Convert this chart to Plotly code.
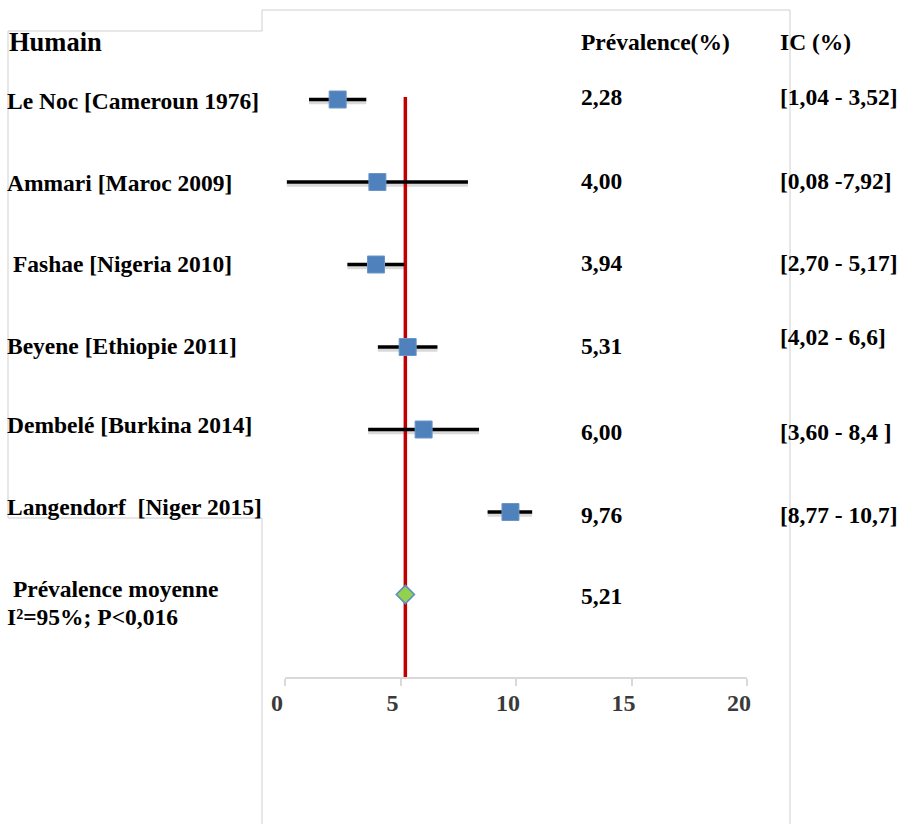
import plotly.graph_objects as go

W, H = 903, 824

# Studies (top to bottom) and pooled estimate
studies = ["Le Noc [Cameroun 1976]", "Ammari [Maroc 2009]", " Fashae [Nigeria 2010]",
           "Beyene [Ethiopie 2011]", "Dembelé [Burkina 2014]", "Langendorf  [Niger 2015]"]
prevalence = [2.28, 4.00, 3.94, 5.31, 6.00, 9.76]
ci_low = [1.04, 0.08, 2.70, 4.02, 3.60, 8.77]
ci_high = [3.52, 7.92, 5.17, 6.6, 8.4, 10.7]
prev_labels = ["2,28", "4,00", "3,94", "5,31", "6,00", "9,76"]
ci_labels = ["[1,04 - 3,52]", "[0,08 -7,92]", "[2,70 - 5,17]",
             "[4,02 - 6,6]", "[3,60 - 8,4 ]", "[8,77 - 10,7]"]
pooled = 5.21
pooled_label = "5,21"
x_ticks = [0, 5, 10, 15, 20]

rows = list(range(len(studies) + 1, 1, -1))  # 7..2, pooled row = 1
pooled_row = 1

FONT = "Times New Roman, Liberation Serif, serif"


def px(x):
    return x / W


def py(y):
    return 1 - y / H


err_plus = [h - p for h, p in zip(ci_high, prevalence)]
err_minus = [p - l for p, l in zip(prevalence, ci_low)]

fig = go.Figure()

# soft drop shadow under the confidence-interval bars
fig.add_trace(go.Scatter(
    x=prevalence, y=[r - 0.035 for r in rows], mode="markers",
    marker=dict(size=1, opacity=0), hoverinfo="skip",
    error_x=dict(type="data", symmetric=False, array=err_plus,
                 arrayminus=err_minus, color="rgba(0,0,0,0.15)",
                 thickness=3.5, width=0)))

# vertical reference line at the pooled prevalence
fig.add_trace(go.Scatter(
    x=[pooled, pooled], y=[0, 7.03], mode="lines",
    line=dict(color="#C00000", width=3.5), hoverinfo="skip"))

# study estimates with confidence intervals
fig.add_trace(go.Scatter(
    x=prevalence, y=rows, mode="markers",
    marker=dict(symbol="square", size=17, color="#4F81BD",
                line=dict(color="#6A96C8", width=1)),
    error_x=dict(type="data", symmetric=False, array=err_plus,
                 arrayminus=err_minus, color="black", thickness=3.5, width=0)))

# pooled estimate
fig.add_trace(go.Scatter(
    x=[pooled], y=[pooled_row], mode="markers",
    marker=dict(symbol="diamond", size=14, color="#92D050",
                line=dict(color="#5B8DBF", width=1.5))))

ann = []


def text(x, y, s, size=23.5, color="black"):
    ann.append(dict(x=px(x), y=py(y), xref="paper", yref="paper", text=s,
                    showarrow=False, xanchor="left", yanchor="middle",
                    borderpad=0,
                    font=dict(family=FONT, size=size, color=color)))


text(8, 42, "<b>Humain</b>", size=26.5)
text(580, 42, "<b>Prévalence(%)</b>")
text(779, 42, "<b>IC (%)</b>")

label_y = [101, 183, 264, 346, 425, 507]
value_y = [97, 181, 263, 346, 432, 515]
ic_y = [97, 181, 263, 337, 432, 515]
for i, name in enumerate(studies):
    text(6, label_y[i], "<b>%s</b>" % name)
    text(580, value_y[i], "<b>%s</b>" % prev_labels[i])
    text(779, ic_y[i], "<b>%s</b>" % ci_labels[i])

text(6, 589, "<b> Prévalence moyenne</b>")
text(6, 617, "<b>I²=95%; P&lt;0,016</b>")
text(580, 596, "<b>%s</b>" % pooled_label)

# frames of the figure panels
gray = "#CFCFCF"
segments = [
    (8, 31, 262, 31), (8, 31, 8, 518), (8, 518, 262, 518),
    (262, 518, 262, 824), (262, 31, 262, 10), (262, 10, 790, 10),
    (790, 10, 790, 824),
]
shapes = [dict(type="line", xref="paper", yref="paper",
               x0=px(a), y0=py(b), x1=px(c), y1=py(d),
               line=dict(color=gray, width=1)) for a, b, c, d in segments]

fig.update_layout(
    width=W, height=H,
    margin=dict(l=0, r=0, t=0, b=0, pad=0, autoexpand=False),
    paper_bgcolor="white", plot_bgcolor="rgba(0,0,0,0)",
    showlegend=False, annotations=ann, shapes=shapes,
    xaxis=dict(domain=[px(285), px(747)], range=[0, 20], tickvals=x_ticks,
               ticktext=["<b>%d</b>" % t for t in x_ticks],
               showgrid=False, zeroline=False, showline=True,
               linecolor="#D9D9D9", linewidth=1.5, ticks="outside",
               ticklen=7, tickcolor="#D9D9D9", tickwidth=1.5,
               ticklabelshift=-8, ticklabelstandoff=-4,
               tickfont=dict(family=FONT, size=24, color="#3A3A3A"),
               anchor="y", fixedrange=True, automargin=False),
    yaxis=dict(domain=[py(677), py(677 - 8 * 82.5)], range=[0, 8],
               visible=False, fixedrange=True, automargin=False),
)

fig.write_html("out.html")
